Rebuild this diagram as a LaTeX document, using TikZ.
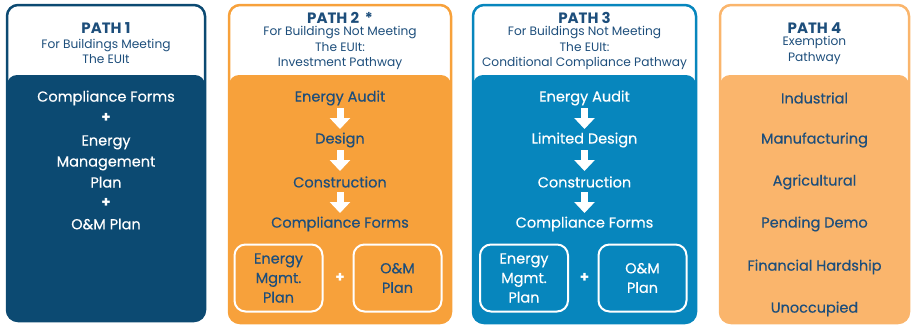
\documentclass[tikz,border=0pt]{standalone}
\usepackage{fontspec}
\setmainfont{Poppins}
\newfontfamily\medfont{Poppins}[FakeBold=0.35]
\usetikzlibrary{arrows.meta}
\definecolor{pone}{HTML}{0C4A72}
\definecolor{ptwo}{HTML}{F7A13B}
\definecolor{pthree}{HTML}{0786BD}
\definecolor{pfour}{HTML}{FAB56C}
\definecolor{ttl}{HTML}{1D4E7B}
\begin{document}
\begin{tikzpicture}[x=1pt,y=-1pt,
  hd/.style={font=\fontsize{15}{15}\selectfont\bfseries, text=ttl, inner sep=0pt},
  sub/.style={font=\fontsize{12.2}{15.5}\selectfont, text=ttl, align=center, inner sep=0pt},
  bt/.style={font=\medfont\fontsize{14.5}{21}\selectfont, align=center, inner sep=0pt},
  pl/.style={font=\fontsize{15}{15}\selectfont\bfseries, inner sep=0pt},
  subbox/.style={draw=white, line width=2pt, rounded corners=11pt, minimum width=88pt, minimum height=67pt, align=center, inner sep=0pt, font=\medfont\fontsize{14.5}{19.5}\selectfont},
  flowarr/.style={draw=white, line width=7pt, -{Triangle[width=20pt,length=11pt]}, shorten <=10pt, shorten >=11pt},
  frame/.style={line width=2.5pt, rounded corners=11pt}
]
\useasboundingbox (0,0) rectangle (911,325);

% ---------- PATH 1
\fill[pone, rounded corners=10pt] (7,75) rectangle (205,321);
\draw[pone, frame] (7,5) rectangle (205,321);
\node[hd] (h1) at (106,28) {PATH 1};
\node[sub] (s1) at (106,51.5) {For Buildings Meeting\\The EUIt};
\node[bt, text=white] (a1) at (106,98) {Compliance Forms};
\node[pl, text=white] (p1a) at (106,118) {+};
\node[bt, text=white] (a2) at (106,161.5) {Energy\\Management\\Plan};
\node[pl, text=white] (p1b) at (106,203) {+};
\node[bt, text=white] (a3) at (106,224) {O\&M Plan};

% ---------- PATH 2
\fill[ptwo, rounded corners=10pt] (229,75) rectangle (451,323);
\draw[ptwo, frame] (229,5) rectangle (451,323);
\node[hd] (h2) at (340,18) {PATH 2 \,*};
\node[sub] (s2) at (340,48) {For Buildings Not Meeting\\The EUIt:\\Investment Pathway};
\node[bt, text=ttl] (b1) at (340,98) {Energy Audit};
\node[bt, text=ttl] (b2) at (340,140) {Design};
\node[bt, text=ttl] (b3) at (340,182) {Construction};
\node[bt, text=ttl] (b4) at (340,224) {Compliance Forms};
\draw[flowarr] (b1.center) -- (b2.center);
\draw[flowarr] (b2.center) -- (b3.center);
\draw[flowarr] (b3.center) -- (b4.center);
\node[subbox, text=ttl] (b5) at (278.5,278) {Energy\\Mgmt.\\Plan};
\node[subbox, text=ttl] (b6) at (397.5,278) {O\&M\\Plan};
\node[pl, text=white] (p2) at (340,278) {+};

% ---------- PATH 3
\fill[pthree, rounded corners=10pt] (473,75) rectangle (696,323);
\draw[pthree, frame] (473,5) rectangle (696,323);
\node[hd] (h3) at (584.5,18) {PATH 3};
\node[sub] (s3) at (584.5,48) {For Buildings Not Meeting\\The EUIt:\\Conditional Compliance Pathway};
\node[bt, text=white] (c1) at (584.5,98) {Energy Audit};
\node[bt, text=white] (c2) at (584.5,140) {Limited Design};
\node[bt, text=white] (c3) at (584.5,182) {Construction};
\node[bt, text=white] (c4) at (584.5,224) {Compliance Forms};
\draw[flowarr] (c1.center) -- (c2.center);
\draw[flowarr] (c2.center) -- (c3.center);
\draw[flowarr] (c3.center) -- (c4.center);
\node[subbox, text=white] (c5) at (524,278) {Energy\\Mgmt.\\Plan};
\node[subbox, text=white] (c6) at (642.5,278) {O\&M\\Plan};
\node[pl, text=white] (p3) at (584.5,278) {+};

% ---------- PATH 4
\fill[pfour, rounded corners=10pt] (720,75) rectangle (909,323);
\draw[pfour, frame] (720,5) rectangle (909,323);
\node[hd] (h4) at (814.5,28) {PATH 4};
\node[sub] (s4) at (814.5,50.5) {Exemption\\Pathway};
\node[bt, text=ttl] (d1) at (814.5,98) {Industrial};
\node[bt, text=ttl] (d2) at (814.5,140) {Manufacturing};
\node[bt, text=ttl] (d3) at (814.5,182) {Agricultural};
\node[bt, text=ttl] (d4) at (814.5,224) {Pending Demo};
\node[bt, text=ttl] (d5) at (814.5,267) {Financial Hardship};
\node[bt, text=ttl] (d6) at (814.5,309) {Unoccupied};
\end{tikzpicture}
\end{document}
